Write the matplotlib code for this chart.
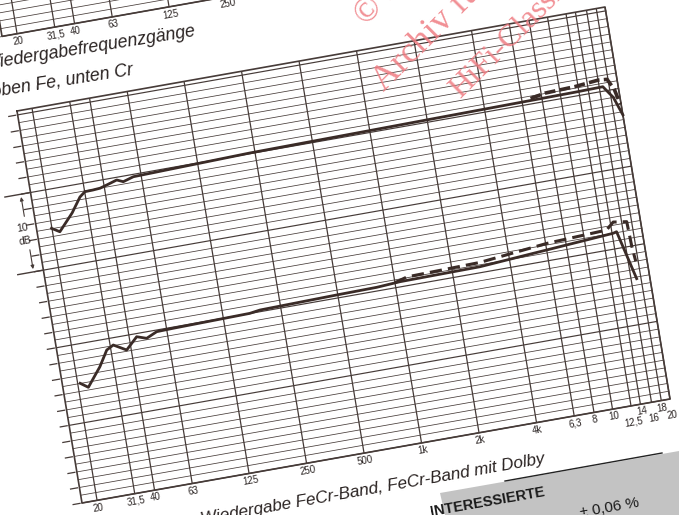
import numpy as np
import matplotlib
matplotlib.use("Agg")
import matplotlib.pyplot as plt
import matplotlib.transforms as mtransforms

plt.rcParams['font.family'] = ['Liberation Sans', 'DejaVu Sans']

# frequency grid (Hz) and labels
grid_freqs = [20, 31.5, 40, 63, 125, 250, 500, 1000, 2000, 4000,
              6300, 8000, 10000, 12500, 14000, 16000, 18000, 20000]
label_row1 = {20: "20", 31.5: "31,5", 40: "40", 63: "63", 125: "125",
              250: "250", 500: "500", 1000: "1k", 2000: "2k", 4000: "4k",
              6300: "6,3", 8000: "8", 10000: "10", 14000: "14", 18000: "18"}
label_row2 = {12500: "12,5", 16000: "16", 20000: "20"}

# playback response, FeCr tape (upper trace)
upper_f = [19.9, 21.8, 26.1, 29.5, 31.6, 34.8, 38.0, 41.3, 46.9, 50.5,
           57.4, 235, 3790, 12000, 16700, 18500, 20000]
upper_db = [-14.95, -15.56, -13.48, -11.66, -11.1, -11.07, -11.0, -10.75,
            -10.34, -10.7, -10.3, -9.91, -9.62, -9.5, -9.43, -11.0, -13.4]
upper_dash_f = [7000, 8400, 12000, 16000, 17800, 19000, 19800]
upper_dash_db = [-9.3, -8.95, -8.8, -8.5, -8.6, -10.0, -12.0]

# FeCr tape with Dolby (lower trace)
lower_f = [20.6, 22.5, 26.8, 30.0, 32.7, 37.9, 43.7, 49.0, 55.8, 68.2,
           172, 195, 494, 800, 1063, 2790, 14200, 14800, 17100]
lower_db = [-34.98, -35.66, -33.34, -31.4, -30.92, -31.84, -30.4, -30.82,
            -30.21, -30.15, -29.98, -29.79, -29.6, -29.53, -29.34, -29.24,
            -28.0, -27.88, -34.2]
lower_dash_f = [1000, 1166, 2810, 6390, 13200, 14500, 17000, 17200, 17500]
lower_dash_db = [-29.35, -28.9, -28.7, -27.8, -27.45, -26.6, -26.85, -30.1, -32.0]

# chart frame: log f from F_LEFT..20 kHz, dB from DB_TOP..DB_BOT
F_LEFT, F_RIGHT = 16.68, 20000
DB_TOP, DB_BOT = 0.5, -50.0
L0, L1 = np.log10(F_LEFT), np.log10(F_RIGHT)

# page placement of the chart corners (printed sheet is tilted)
TL = (17.0, 111.0)
TR = (605.0, 7.0)
BL = (82.0, 503.0)

ink = '#463b38'
pen = '#3a2b27'
txt = '#2a2322'

fig = plt.figure(figsize=(6.79, 5.15), dpi=100)
fig.patch.set_facecolor('white')
ax = fig.add_axes([0, 0, 1, 1])
ax.set_xlim(0, 679)
ax.set_ylim(515, 0)
ax.axis('off')

a = (TR[0] - TL[0]) / (L1 - L0)
b = -(BL[0] - TL[0]) / (DB_TOP - DB_BOT)
d = (TR[1] - TL[1]) / (L1 - L0)
e = -(BL[1] - TL[1]) / (DB_TOP - DB_BOT)
c = TL[0] - a * L0 - b * DB_TOP
f = TL[1] - d * L0 - e * DB_TOP
chart = mtransforms.Affine2D(np.array([[a, b, c], [d, e, f], [0, 0, 1]]))
T = chart + ax.transData
px_dec = np.hypot(TR[0] - TL[0], TR[1] - TL[1]) / (L1 - L0)
ang = np.degrees(np.arctan2(TL[1] - TR[1], TR[0] - TL[0]))


def draw_chart(tr, labels=True):
    for fr in grid_freqs:
        ax.plot([np.log10(fr)] * 2, [DB_TOP, DB_BOT], color=ink, lw=0.9,
                transform=tr, solid_capstyle='butt')
    for v in range(int(DB_BOT), 1):
        heavy = v % 10 == 0
        ax.plot([L0, L1], [v, v], color=ink, lw=0.85 if heavy else 0.55,
                transform=tr)
    ax.plot([L0, L1, L1, L0, L0], [DB_TOP, DB_TOP, DB_BOT, DB_BOT, DB_TOP],
            color=ink, lw=1.2, transform=tr)
    # dB ticks outside the left edge
    for v in range(int(DB_BOT), 1, 2):
        ax.plot([L0 - 9 / px_dec, L0 - 2 / px_dec], [v, v], color=ink,
                lw=0.9, transform=tr)
    if labels:
        for fr, lab in label_row1.items():
            ax.text(np.log10(fr), DB_BOT - 0.95, lab, transform=tr,
                    rotation=ang, rotation_mode='anchor', ha='center',
                    va='center', fontsize=7, color=txt)
        for fr, lab in label_row2.items():
            ax.text(np.log10(fr), DB_BOT - 2.1, lab, transform=tr,
                    rotation=ang, rotation_mode='anchor', ha='center',
                    va='center', fontsize=7, color=txt)


# partially visible chart above
draw_chart(mtransforms.Affine2D(np.array([[a, b, c - 80], [d, e, f - 466.6],
                                          [0, 0, 1]])) + ax.transData)
ax.text(196, 36, "Wiedergabefrequenzgänge", rotation=9, rotation_mode='anchor',
        ha='right', va='baseline', fontsize=12.8, style='italic', color=txt)
ax.text(134, 74, "oben Fe, unten Cr", rotation=9, rotation_mode='anchor',
        ha='right', va='baseline', fontsize=12.8, style='italic', color=txt)

draw_chart(T)

# 10 dB bracket on the left
for v in (-10, -20):
    ax.plot([L0 - 26 / px_dec, L0], [v, v], color=ink, lw=1.0, transform=T)
xb = L0 - 10 / px_dec
ax.annotate("", xy=(xb, -10), xytext=(xb, -13.2), xycoords=T, textcoords=T,
            arrowprops=dict(arrowstyle='-|>', color=ink, lw=0.8,
                            mutation_scale=5))
ax.annotate("", xy=(xb, -20), xytext=(xb, -16.8), xycoords=T, textcoords=T,
            arrowprops=dict(arrowstyle='-|>', color=ink, lw=0.8,
                            mutation_scale=5))
ax.text(L0 - 14 / px_dec, -14.2, "10", transform=T, rotation=ang,
        ha='center', va='center', fontsize=7.5, color=txt)
ax.text(L0 - 13 / px_dec, -15.9, "dB", transform=T, rotation=ang,
        ha='center', va='center', fontsize=7.5, color=txt)

# response traces
ax.plot(np.log10(upper_f), upper_db, color=pen, lw=2.0, transform=T,
        solid_joinstyle='round')
ax.plot(np.log10(upper_dash_f), upper_dash_db, color=pen, lw=2.6,
        dashes=(3, 1.2), transform=T)
ax.plot(np.log10(lower_f), lower_db, color=pen, lw=2.0, transform=T,
        solid_joinstyle='round')
ax.plot(np.log10(lower_dash_f), lower_dash_db, color=pen, lw=2.2,
        dashes=(4, 2), transform=T)

ax.text(545, 463, "Wiedergabe FeCr-Band, FeCr-Band mit Dolby", rotation=ang,
        rotation_mode='anchor', ha='right', va='baseline', fontsize=12.3,
        style='italic', color=txt)

# grey box of the next column
ax.fill([440, 679, 679, 445], [493, 451, 515, 515], color='#c3c3c3', lw=0)
ax.plot([505, 662], [481, 453], color='#222222', lw=1.0)
ax.text(545, 496, "INTERESSIERTE", rotation=ang, rotation_mode='anchor',
        ha='right', va='baseline', fontsize=10.5, weight='bold', color='#1a1a1a')
ax.text(640, 507, "± 0,06 %", rotation=ang, rotation_mode='anchor',
        ha='right', va='baseline', fontsize=11, color='#1a1a1a')

# archive stamp
wm = dict(rotation=45, rotation_mode='anchor', ha='left', va='baseline',
          color='#ef7c82', alpha=0.85, family='Liberation Serif')
ax.text(366, 26, "© by", fontsize=24, **wm)
ax.text(384, 92, "Archiv für", fontsize=26, **wm)
ax.text(460, 99, "HiFi-Classic", fontsize=23, **wm)

fig.savefig("out.png", dpi=100, facecolor='white')
